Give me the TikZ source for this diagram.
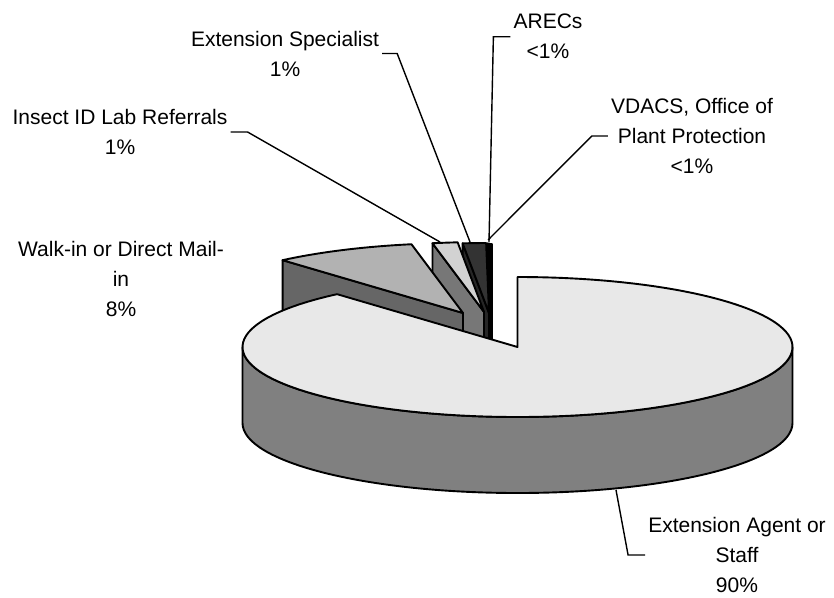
\documentclass[tikz,border=0pt]{standalone}
\usepackage{fontspec}
\setmainfont{Liberation Sans}
\usepackage{tikz}
\definecolor{agenttop}{HTML}{E8E8E8}
\definecolor{agentside}{HTML}{808080}
\definecolor{walktop}{HTML}{B2B2B2}
\definecolor{walkside}{HTML}{666666}
\definecolor{insecttop}{HTML}{D2D2D2}
\definecolor{insectside}{HTML}{777777}
\definecolor{spectop}{HTML}{333333}
\definecolor{specside}{HTML}{262626}
\tikzstyle{slice} = [draw=black, line width=1.9pt, line join=round]
\tikzstyle{piefont} = [font=\fontsize{21}{30}\selectfont]
\tikzstyle{chartlabel} = [piefont, align=center, inner ysep=0pt, inner xsep=3pt]
\tikzstyle{leader} = [line width=1.4pt]
% back slice: apex, start angle, end angle, top fill, side fill
\newcommand{\pieslice}[5]{%
  \begin{scope}[shift={#1}, yscale=-1]
    \filldraw[slice, fill=#5] (0,0) -- (#3:275 and 70) -- ++(0,-76) -- (0,-76) -- cycle;
    \filldraw[slice, fill=#4] (0,0) -- (#2:275 and 70)
      arc[start angle=#2, end angle=#3, x radius=275, y radius=70] -- cycle;
  \end{scope}}

\begin{document}
\begin{tikzpicture}[x=1pt, y=-1pt]
    \fill[white] (0,0) rectangle (834,597);
    \useasboundingbox (0,0) rectangle (834,597);

    % slices behind the big one, right to left
    \pieslice{(492,314)}{90}{90.3}{black}{black}
    \pieslice{(490.5,313.5)}{90.3}{90.6}{white}{black}
    \pieslice{(489,313)}{90.6}{95.5}{spectop}{specside}
    \pieslice{(484,312)}{95.5}{100.8}{insecttop}{insectside}
    \pieslice{(463,313)}{100.8}{131}{walktop}{walkside}

    % big slice
    \begin{scope}[shift={(517.5,347)}, yscale=-1]
        \filldraw[slice, fill=agentside] (180:275 and 70)
            arc[start angle=180, end angle=360, x radius=275, y radius=70]
            -- ++(0,-76) arc[start angle=360, end angle=180, x radius=275, y radius=70] -- cycle;
        \filldraw[slice, fill=agenttop] (0,0) -- (131:275 and 70)
            arc[start angle=131, end angle=450, x radius=275, y radius=70] -- cycle;
    \end{scope}

    \coordinate (agent-tip) at (616,490);
    \coordinate (insect-tip) at (440,242);
    \coordinate (spec-tip) at (470,242);
    \coordinate (arecs-tip) at (489,242);
    \coordinate (vdacs-tip) at (488,240);

    \node (agent) [chartlabel] at (737,555) {Extension Agent or\\Staff\\90\%};
    \node (walk) [chartlabel] at (121,279) {Walk-in or Direct Mail-\\in\\8\%};
    \node (insect) [chartlabel] at (120,132) {Insect ID Lab Referrals\\1\%};
    \node (spec) [chartlabel] at (285,53.5) {Extension Specialist\\1\%};
    \node (arecs) [chartlabel] at (548,36.7) {ARECs\\<1\%};
    \node (vdacs) [chartlabel] at (692,136) {VDACS, Office of\\Plant Protection\\<1\%};

    \draw [leader] (agent.west) -- ++(-17,0) -- (agent-tip);
    \draw [leader] (insect.east) -- ++(17,0) -- (insect-tip);
    \draw [leader] (spec.east) -- ++(15,0) -- (spec-tip);
    \draw [leader] (arecs.west) -- ++(-17,0) -- (arecs-tip);
    \draw [leader] (vdacs.west) -- ++(-16,0) -- (vdacs-tip);
\end{tikzpicture}
\end{document}
